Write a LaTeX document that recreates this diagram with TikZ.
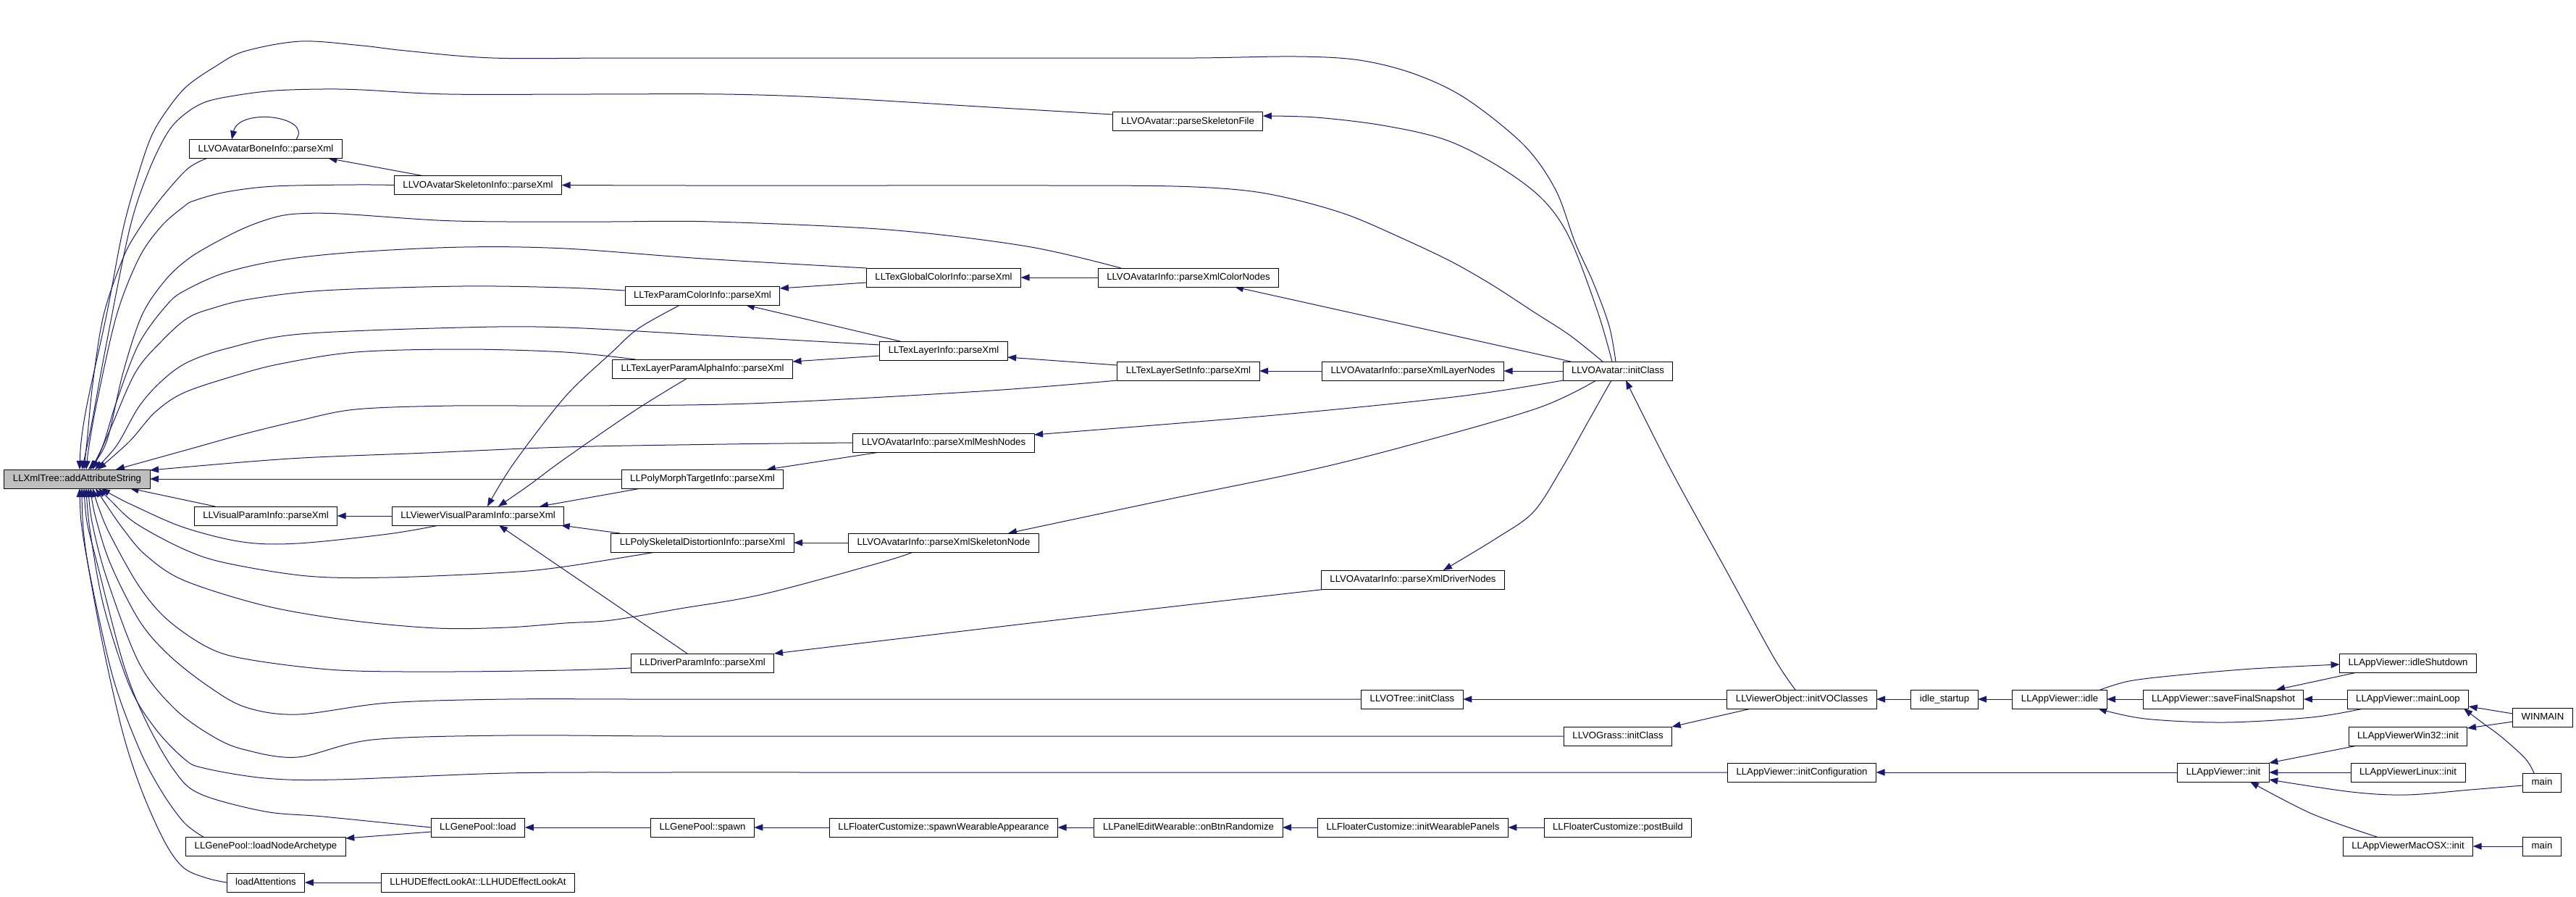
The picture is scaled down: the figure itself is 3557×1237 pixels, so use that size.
\documentclass[tikz,border=0pt]{standalone}
\usepackage{fontspec}
\setmainfont{Liberation Sans}
\usetikzlibrary{arrows.meta}
\definecolor{edgeblue}{RGB}{25,25,112}
\definecolor{rootgray}{RGB}{191,191,191}
\pgfdeclarelayer{bg}
\pgfsetlayers{bg,main}
\begin{document}
\begin{tikzpicture}[x=1pt,y=-1pt,
  box/.style={draw=black, line width=1pt, fill=white, minimum height=26pt, inner xsep=12pt, inner ysep=0pt, outer sep=0pt, font=\fontsize{13.2}{15}\selectfont, text height=9.6pt, text depth=2.6pt},
  root/.style={box, fill=rootgray},
  edge/.style={draw=edgeblue, line width=1pt, -{Triangle[length=12pt,width=9pt]}, fill=none},
  sm/.style={smooth, tension=0.55}]
\useasboundingbox (0,0) rectangle (3557,1237);
% nodes
\node[root] (xml) at (106.5,661) {LLXmlTree::addAttributeString};
\node[box] (bone) at (367,205.5) {LLVOAvatarBoneInfo::parseXml};
\node[box] (skel) at (660,255.5) {LLVOAvatarSkeletonInfo::parseXml};
\node[box] (skelfile) at (1640,167.5) {LLVOAvatar::parseSkeletonFile};
\node[box] (texparamcolor) at (970,408) {LLTexParamColorInfo::parseXml};
\node[box] (texglobal) at (1303,383) {LLTexGlobalColorInfo::parseXml};
\node[box] (colornodes) at (1641,383) {LLVOAvatarInfo::parseXmlColorNodes};
\node[box] (texlayer) at (1303,484) {LLTexLayerInfo::parseXml};
\node[box] (alpha) at (970,509) {LLTexLayerParamAlphaInfo::parseXml};
\node[box] (layerset) at (1641,512) {LLTexLayerSetInfo::parseXml};
\node[box] (layernodes) at (1951,512) {LLVOAvatarInfo::parseXmlLayerNodes};
\node[box] (avinit) at (2234,512) {LLVOAvatar::initClass};
\node[box] (meshnodes) at (1303,611) {LLVOAvatarInfo::parseXmlMeshNodes};
\node[box] (polymorph) at (970,661) {LLPolyMorphTargetInfo::parseXml};
\node[box] (visparam) at (367,712) {LLVisualParamInfo::parseXml};
\node[box] (viewvis) at (660,712) {LLViewerVisualParamInfo::parseXml};
\node[box] (polyskel) at (970,749) {LLPolySkeletalDistortionInfo::parseXml};
\node[box] (skelnode) at (1303,749) {LLVOAvatarInfo::parseXmlSkeletonNode};
\node[box] (drivernodes) at (1951,800) {LLVOAvatarInfo::parseXmlDriverNodes};
\node[box] (driverparam) at (970,915) {LLDriverParamInfo::parseXml};
\node[box] (votree) at (1950,965) {LLVOTree::initClass};
\node[box] (initvo) at (2488,965) {LLViewerObject::initVOClasses};
\node[box] (idlestartup) at (2685,965) {idle\_startup};
\node[box] (idle) at (2844,965) {LLAppViewer::idle};
\node[box] (savefinal) at (3070,965) {LLAppViewer::saveFinalSnapshot};
\node[box] (idleshut) at (3325,915) {LLAppViewer::idleShutdown};
\node[box] (mainloop) at (3325,965) {LLAppViewer::mainLoop};
\node[box] (winmain) at (3511,990) {WINMAIN};
\node[box] (vograss) at (2234,1016) {LLVOGrass::initClass};
\node[box] (initconf) at (2488,1066) {LLAppViewer::initConfiguration};
\node[box] (appinit) at (3070,1066) {LLAppViewer::init};
\node[box] (win32) at (3325,1016) {LLAppViewerWin32::init};
\node[box] (linux) at (3325,1066) {LLAppViewerLinux::init};
\node[box] (mainA) at (3510,1080) {main};
\node[box] (macosx) at (3325,1168) {LLAppViewerMacOSX::init};
\node[box] (mainB) at (3510,1168) {main};
\node[box] (geneload) at (660,1142) {LLGenePool::load};
\node[box] (nodearch) at (367,1168) {LLGenePool::loadNodeArchetype};
\node[box] (loadatt) at (367,1218) {loadAttentions};
\node[box] (hud) at (660,1218) {LLHUDEffectLookAt::LLHUDEffectLookAt};
\node[box] (genespawn) at (970,1142) {LLGenePool::spawn};
\node[box] (spawnwear) at (1303,1142) {LLFloaterCustomize::spawnWearableAppearance};
\node[box] (onbtn) at (1641,1142) {LLPanelEditWearable::onBtnRandomize};
\node[box] (initwear) at (1951,1142) {LLFloaterCustomize::initWearablePanels};
\node[box] (postbuild) at (2234,1142) {LLFloaterCustomize::postBuild};
\begin{pgfonlayer}{bg}
\fill[white] (0,0) rectangle (3557,1237);
% fan into LLXmlTree (top side)
\draw[edge] plot[sm] coordinates {([xshift=-3pt]avinit.north) (2222,450) (2200,390) (2175,335) (2148,262) (2104,200) (2024,136) (1953,102) (1877,83) (1790,78) (1650,80) (1450,80) (1250,80) (1050,80) (850,80) (680,80) (560,70) (500,63) (415,57) (337,71) (297,92) (258,119) (232,150) (210,186) (192,237) (170,316) (147,435) (121,554) (112,610) ([xshift=3.5pt]xml.north)};
\draw[edge] plot[sm] coordinates {([yshift=9.5pt]skelfile.west) (1367,148) (1150,135) (999,130) (810,130) (619,130) (500,124) (446,123) (380,125) (330,131) (286,140) (257,156) (232,182) (205,237) (179,316) (147,474) (125,593) ([xshift=6.5pt]xml.north)};
\draw[edge] plot[sm] coordinates {([xshift=24pt]bone.south west) (259,233) (223,273) (192,316) (170,356) (143,435) (128,530) (121,600) ([xshift=9.5pt]xml.north)};
\draw[edge] plot[sm] coordinates {(skel.west) (491,255) (379,257) (312,265) (268,277) (254,285) (223,312) (192,356) (161,435) (134,554) (123,615) ([xshift=12.5pt]xml.north)};
\draw[edge] plot[sm] coordinates {([xshift=-93pt]colornodes.north) (1418,340) (1226,317) (984,306) (840,306) (700,306) (603,304) (469,295) (411,295) (379,300) (339,314) (295,336) (259,358) (228,387) (196,435) (170,514) (147,610) ([xshift=15.5pt]xml.north)};
\draw[edge] plot[sm] coordinates {(texglobal.north west) (971,357) (780,343) (640,341) (491,348) (388,359) (312,376) (259,399) (232,419) (192,474) (161,554) (142,615) ([xshift=18.5pt]xml.north)};
\draw[edge] plot[sm] coordinates {([yshift=7pt]texparamcolor.west) (780,397) (638,395) (446,401) (344,413) (295,425) (259,439) (223,471) (187,514) (152,593) ([xshift=21.5pt]xml.north)};
\draw[edge] plot[sm] coordinates {([yshift=8pt]texlayer.west) (1000,464) (780,452) (638,452) (415,461) (317,480) (259,500) (223,526) (192,561) (161,615) ([xshift=24.5pt]xml.north)};
\draw[edge] plot[sm] coordinates {([xshift=32pt]alpha.north west) (780,486) (638,482) (491,486) (388,502) (326,518) (254,542) (214,569) (179,609) ([xshift=28.5pt]xml.north)};
\draw[edge] plot[sm] coordinates {(layerset.south west) (1354,540) (1035,557) (780,560) (625,560) (491,565) (411,581) (333,600) (261,620) ([xshift=53.5pt]xml.north)};
\draw[edge] plot[sm] coordinates {(meshnodes.west) (1003,613) (780,617) (590,625) (400,633) ([yshift=12pt]xml.east)};
\draw[edge] (polymorph) -- (xml);
\draw[edge] ([xshift=29pt]visparam.north west) -- ([xshift=73pt]xml.south);
% fan into LLXmlTree (bottom side)
\draw[edge] plot[sm] coordinates {([xshift=-54pt]viewvis.south) (536,737) (411,750) (335,748) (254,728) (187,699) (157,684) ([xshift=33.5pt]xml.south)};
\draw[edge] plot[sm] coordinates {([xshift=61pt]polyskel.south west) (780,782) (700,790) (536,797) (424,795) (312,777) (254,758) (187,722) (152,690) ([xshift=29.5pt]xml.south)};
\draw[edge] plot[sm] coordinates {([xshift=-42pt]skelnode.south) (1214,777) (1054,820) (939,840) (844,856) (780,860) (700,866) (603,867) (482,856) (366,836) (254,801) (201,766) (170,730) (145,694) ([xshift=25.5pt]xml.south)};
\draw[edge] plot[sm] coordinates {([yshift=-7pt]driverparam.west) (780,925) (620,927) (469,925) (348,911) (290,895) (232,856) (192,809) (152,738) (136,700) ([xshift=21.5pt]xml.south)};
\draw[edge] plot[sm] coordinates {(votree.west) (1600,965) (1350,965) (1100,965) (880,965) (700,965) (536,970) (411,986) (339,976) (286,946) (232,903) (192,856) (152,777) (131,710) ([xshift=18.5pt]xml.south)};
\draw[edge] plot[sm] coordinates {(vograss.west) (1900,1016) (1650,1016) (1400,1016) (1150,1016) (920,1016) (700,1015) (514,1021) (411,1045) (339,1035) (295,1017) (241,978) (192,915) (147,797) (127,720) ([xshift=15.5pt]xml.south)};
\draw[edge] plot[sm] coordinates {(initconf.west) (2150,1066) (1900,1066) (1650,1066) (1400,1066) (1150,1066) (920,1066) (700,1067) (464,1076) (366,1074) (281,1060) (254,1047) (214,1005) (179,947) (143,836) (124,730) ([xshift=12.5pt]xml.south)};
\draw[edge] plot[sm] coordinates {(geneload.west) (446,1127) (366,1120) (277,1096) (241,1064) (201,994) (170,915) (134,777) (120,720) ([xshift=9.5pt]xml.south)};
\draw[edge] plot[sm] coordinates {([xshift=24pt]nodearch.north west) (254,1135) (223,1092) (192,1033) (156,935) (125,797) (115,730) ([xshift=6.5pt]xml.south)};
\draw[edge] plot[sm] coordinates {(loadatt.west) (286,1212) (254,1198) (228,1163) (196,1092) (170,1013) (143,895) (121,777) (112,720) ([xshift=3.5pt]xml.south)};
% other edges
\draw[edge] ([xshift=42pt]bone.north) .. controls (432,160) and (330,148) .. ([xshift=-47pt]bone.north);
\draw[edge] ([xshift=39pt]skel.north west) -- ([xshift=-19pt]bone.south east);
\draw[edge] plot[sm] coordinates {([xshift=-21pt]avinit.north) (2168,463) (2117,430) (2060,393) (2002,360) (1932,327) (1862,297) (1790,276) (1720,263) (1620,257) (1450,256) (1200,256) (950,256) (skel.east)};
\draw[edge] plot[sm] coordinates {([xshift=-8pt]avinit.north) (2206,430) (2168,330) (2130,275) (2070,230) (1996,193) (1909,173) (1817,162) ([yshift=7.5pt]skelfile.east)};
\draw[edge] ([xshift=11pt]avinit.north west) -- ([xshift=64pt]colornodes.south);
\draw[edge] (avinit) -- (layernodes);
\draw[edge] plot[sm] coordinates {(avinit.south west) (2015,547) (1760,573) ([yshift=11pt]meshnodes.east)};
\draw[edge] plot[sm] coordinates {([xshift=-30pt]avinit.south) (2124,563) (1951,613) (1808,649) (1609,690) ([xshift=89pt]skelnode.north)};
\draw[edge] plot[sm] coordinates {([xshift=-9pt]avinit.south) (2194,580) (2155,649) (2117,707) (2066,743) ([xshift=42pt]drivernodes.north)};
\draw[edge] plot[sm] coordinates {([xshift=-9pt]initvo.north) (2449,907) (2385,790) (2308,650) ([xshift=11pt]avinit.south)};
\draw[edge] (colornodes) -- (texglobal);
\draw[edge] ([yshift=-7pt]texglobal.west) -- ([yshift=10pt]texparamcolor.east);
\draw[edge] ([xshift=28pt]texlayer.north west) -- ([xshift=-47pt]texparamcolor.south east);
\draw[edge] ([yshift=8pt]layerset.west) -- ([yshift=-9pt]texlayer.east);
\draw[edge] ([yshift=-7pt]texlayer.west) -- ([yshift=10pt]alpha.east);
\draw[edge] (layernodes) -- (layerset);
\draw[edge] plot[sm] coordinates {([xshift=-31pt]texparamcolor.south) (882,453) (844,487) (780,548) (709,640) ([xshift=13pt]viewvis.north)};
\draw[edge] plot[sm] coordinates {([xshift=-21pt]alpha.south) (876,567) (780,633) (730,670) ([xshift=28pt]viewvis.north)};
\draw[edge] ([xshift=-85pt]polymorph.south) -- ([xshift=85pt]viewvis.north);
\draw[edge] ([xshift=12pt]polyskel.north west) -- ([xshift=-4pt]viewvis.south east);
\draw[edge] ([xshift=-21pt]driverparam.north) -- ([xshift=29pt]viewvis.south);
\draw[edge] (viewvis) -- (visparam);
\draw[edge] ([xshift=37pt]meshnodes.south west) -- ([xshift=-23pt]polymorph.north east);
\draw[edge] (skelnode) -- (polyskel);
\draw[edge] plot[sm] coordinates {([xshift=7pt]drivernodes.south west) (1482,853) (driverparam.north east)};
\draw[edge] (initvo) -- (votree);
\draw[edge] ([xshift=33pt]initvo.south west) -- (vograss.north east);
\draw[edge] (idlestartup) -- (initvo);
\draw[edge] (idle) -- (idlestartup);
\draw[edge] (savefinal) -- (idle);
\draw[edge] (mainloop) -- (savefinal);
\draw[edge] ([xshift=24pt]idleshut.south west) -- ([xshift=73pt]savefinal.north);
\draw[edge] plot[sm] coordinates {([xshift=56pt]idle.north) (2940,940) (3006,932) (3110,923) ([yshift=-2pt]idleshut.west)};
\draw[edge] plot[sm] coordinates {([xshift=22pt]mainloop.south west) (3192,990) (3072,997) (2962,992) ([xshift=53pt]idle.south)};
\draw[edge] ([yshift=5pt]winmain.west) -- ([yshift=-10pt]mainloop.east);
\draw[edge] ([yshift=-6pt]winmain.west) -- ([yshift=11pt]win32.east);
\draw[edge] plot[sm] coordinates {([xshift=-11pt]mainA.north) (3487,1047) (3454,1017) (3427,997) ([xshift=77pt]mainloop.south)};
\draw[edge] plot[sm] coordinates {([yshift=-4pt]mainA.west) (3411,1090) (3323,1097) (3247,1093) ([yshift=-10pt]appinit.east)};
\draw[edge] ([xshift=12pt]win32.south west) -- (appinit.north east);
\draw[edge] (linux) -- (appinit);
\draw[edge] plot[sm] coordinates {([xshift=-43pt]macosx.north) (3192,1123) ([xshift=37pt]appinit.south)};
\draw[edge] (mainB) -- (macosx);
\draw[edge] (appinit) -- (initconf);
\draw[edge] ([yshift=-6pt]geneload.west) -- ([yshift=11pt]nodearch.east);
\draw[edge] (genespawn) -- (geneload);
\draw[edge] (spawnwear) -- (genespawn);
\draw[edge] (onbtn) -- (spawnwear);
\draw[edge] (initwear) -- (onbtn);
\draw[edge] (postbuild) -- (initwear);
\draw[edge] (hud) -- (loadatt);
\end{pgfonlayer}
\end{tikzpicture}
\end{document}
